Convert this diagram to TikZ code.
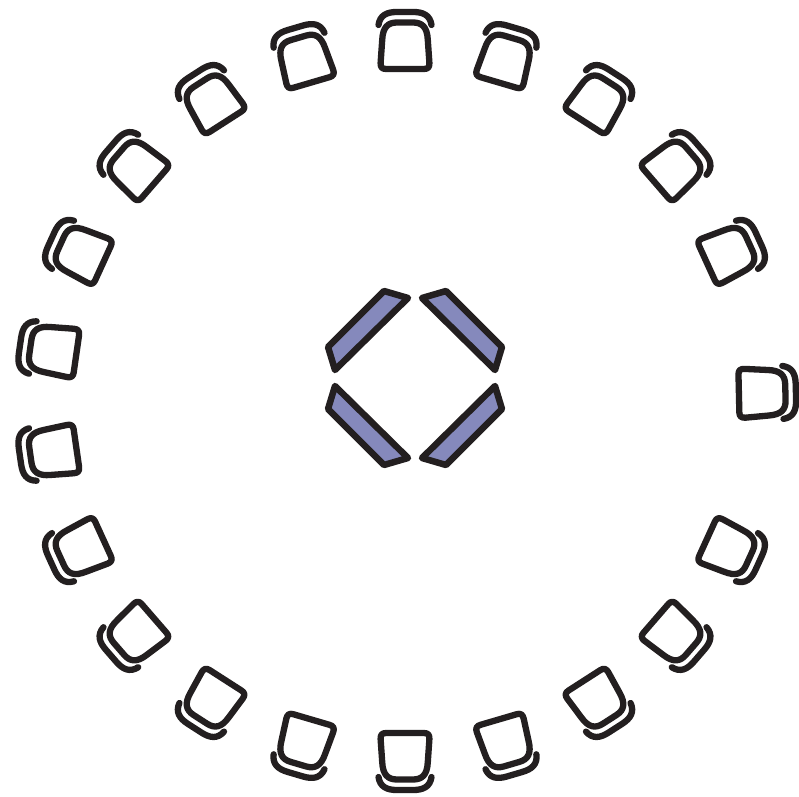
\documentclass[tikz,border=0pt]{standalone}
\definecolor{chairblack}{HTML}{231F20}
\definecolor{tablefill}{HTML}{8589BC}
\tikzset{
  chairline/.style={line width=6.3pt, line cap=round, line join=round, draw=chairblack},
  tableshape/.style={line width=6.5pt, line join=round, draw=chairblack, fill=tablefill},
  chair/.pic={
    \draw[chairline] (0,-23) -- (-19,-23) .. controls (-23,-23) and (-24.6,-21) .. (-24.4,-17)
      -- (-22.8,6) .. controls (-22.2,19) and (-17,23.5) .. (-8,23.5) -- (8,23.5)
      .. controls (17,23.5) and (22.2,19) .. (22.8,6) -- (24.4,-17)
      .. controls (24.6,-21) and (23,-23) .. (19,-23) -- cycle;
    \draw[chairline] (-26.5,21) .. controls (-25,31) and (-18,34) .. (-8,34) -- (8,34)
      .. controls (18,34) and (25,31) .. (26.5,21);
  }
}
\begin{document}
\begin{tikzpicture}[x=1pt,y=1pt]
\useasboundingbox (0,0) rectangle (799,796);
% chairs around the circle
\foreach \a in {90,106.364,122.727,139.091,155.455,171.818,188.182,204.545,220.909,237.273,253.636,270,286.364,302.727,319.091,335.455,24.545,40.909,57.273,73.636}{
  \pic[rotate=\a-90] at ({405+355*cos(\a)},{395+355*sin(\a)}) {chair};
}
% single chair on the right
\pic[rotate=1.3-90] at ({405+357*cos(1.3)},{395+357*sin(1.3)}) {chair};
% tables
\begin{scope}[shift={(415,418)}]
  \foreach \sx/\sy in {1/1,-1/1,1/-1,-1/-1}{
    \begin{scope}[xscale=\sx,yscale=\sy]
      \draw[tableshape] (-31,87) -- (-7,80) -- (-80,8) -- (-87,31) -- cycle;
    \end{scope}
  }
\end{scope}
\end{tikzpicture}
\end{document}
